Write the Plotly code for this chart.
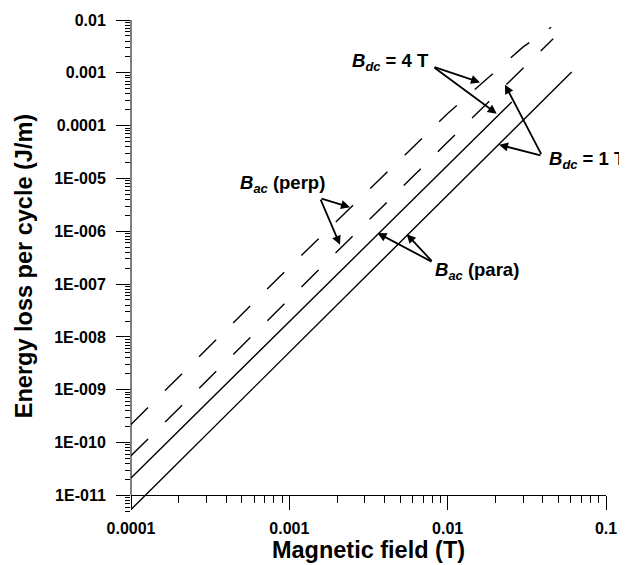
import math
import plotly.graph_objects as go

# ---- data ----
perp_4T_B = [1e-4, 1e-3, 1e-2, 0.03, 0.045]
perp_4T_E = [2.2e-10, 2.1e-7, 1.7e-4, 3.1e-3, 7.3e-3]

perp_1T_B = [1e-4, 1e-3, 1e-2, 0.0464]
perp_1T_E = [5.6e-11, 5.3e-8, 4.9e-5, 4.4e-3]

para_4T_B = [1e-4, 1e-3, 1e-2, 0.0254]
para_4T_E = [2.13e-11, 1.95e-8, 1.78e-5, 2.8e-4]

para_1T_B = [1e-4, 1e-3, 1e-2, 0.0607]
para_1T_E = [5.4e-12, 5.1e-9, 4.8e-6, 1.04e-3]

x_tickvals = [1e-4, 1e-3, 1e-2, 1e-1]
x_ticktext = ["0.0001", "0.001", "0.01", "0.1"]
y_tickvals = [1e-11, 1e-10, 1e-9, 1e-8, 1e-7, 1e-6, 1e-5, 1e-4, 1e-3, 1e-2]
y_ticktext = ["1E-011", "1E-010", "1E-009", "1E-008", "1E-007", "1E-006",
              "1E-005", "0.0001", "0.001", "0.01"]

FONT = "Liberation Sans, Arial, sans-serif"
DASH = "24px,24px"

fig = go.Figure()
for B, E, dash in [(perp_4T_B, perp_4T_E, DASH), (perp_1T_B, perp_1T_E, DASH),
                   (para_4T_B, para_4T_E, "solid"), (para_1T_B, para_1T_E, "solid")]:
    fig.add_trace(go.Scatter(x=B, y=E, mode="lines",
                             line=dict(color="black", width=1.4, dash=dash),
                             showlegend=False, hoverinfo="skip"))

YMIN, YMAX = -11.315, -2.0
xpos = (-11 - YMIN) / (YMAX - YMIN)

fig.update_layout(
    template="none",
    width=619, height=557,
    margin=dict(l=123, r=21, t=12, b=53),
    paper_bgcolor="white", plot_bgcolor="white",
    font=dict(family=FONT, color="black"),
    xaxis=dict(type="log", range=[-4, -1], anchor="free", position=xpos,
               automargin=False,
               showline=True, linecolor="black", linewidth=1,
               showgrid=False, zeroline=False,
               tickmode="array", tickvals=x_tickvals, ticktext=x_ticktext,
               ticks="outside", ticklen=14, tickwidth=1, tickcolor="black",
               tickfont=dict(size=16, weight=700, family=FONT),
               ticklabelstandoff=4,
               minor=dict(dtick="D1", ticks="outside", ticklen=7, tickcolor="black",
                          tickwidth=1, showgrid=False),
               title=dict(text="Magnetic field (T)", standoff=5,
                          font=dict(size=23.5, weight=700, family=FONT))),
    yaxis=dict(type="log", range=[YMIN, YMAX], automargin=False,
               showline=False, showgrid=False, zeroline=False,
               tickmode="array", tickvals=y_tickvals, ticktext=y_ticktext,
               ticks="outside", ticklen=14, tickwidth=1, tickcolor="black",
               tickfont=dict(size=16, weight=700, family=FONT),
               ticklabelstandoff=7,
               minor=dict(dtick="D1", ticks="outside", ticklen=5, tickcolor="black",
                          tickwidth=1, showgrid=False),
               title=dict(text="Energy loss per cycle (J/m)", standoff=14,
                          font=dict(size=23.5, weight=700, family=FONT))),
)

# y-axis line only from 1E-011 to 0.01
fig.add_shape(type="line", xref="paper", yref="paper", x0=0, x1=0, y0=xpos, y1=1,
              line=dict(color="black", width=1))

lab_font = dict(size=18.5, family=FONT, color="black")

def lab(text, lx, ly):
    fig.add_annotation(x=lx, y=ly, xref="x", yref="y", text=text, showarrow=False,
                       xanchor="left", yanchor="middle", font=lab_font)

def arrow(tx, ty, hx, hy):
    fig.add_annotation(x=hx, y=hy, ax=tx, ay=ty, xref="x", yref="y", axref="x", ayref="y",
                       text="", showarrow=True, arrowhead=2, arrowsize=1, arrowwidth=1.8,
                       arrowcolor="black", standoff=0, startstandoff=0)

def px2B(px):
    return -4 + (px - 131) / 158.33

def py2E(py):
    return -2 - (py - 20.3) / 52.82

B_dc = "<b><i>B</i></b><sub><b><i>dc</i></b></sub>"
B_ac = "<b><i>B</i></b><sub><b><i>ac</i></b></sub>"

lab(B_dc + "<b> = 4 T</b>", px2B(350), py2E(62))
arrow(px2B(433), py2E(67), px2B(480), py2E(82.7))
arrow(px2B(433), py2E(67), px2B(496.7), py2E(114))

lab(B_dc + "<b> = 1 T</b>", px2B(547), py2E(160))
arrow(px2B(542), py2E(156), px2B(505), py2E(85))
arrow(px2B(542), py2E(156), px2B(499), py2E(145))

lab(B_ac + "<b> (perp)</b>", px2B(238), py2E(184))
arrow(px2B(320), py2E(198.5), px2B(350), py2E(207.5))
arrow(px2B(320), py2E(198.5), px2B(340), py2E(245))

lab(B_ac + "<b> (para)</b>", px2B(433), py2E(271))
arrow(px2B(433), py2E(262.7), px2B(377.5), py2E(233.3))
arrow(px2B(433), py2E(262.7), px2B(406.7), py2E(234.5))

fig.write_html("out.html")
